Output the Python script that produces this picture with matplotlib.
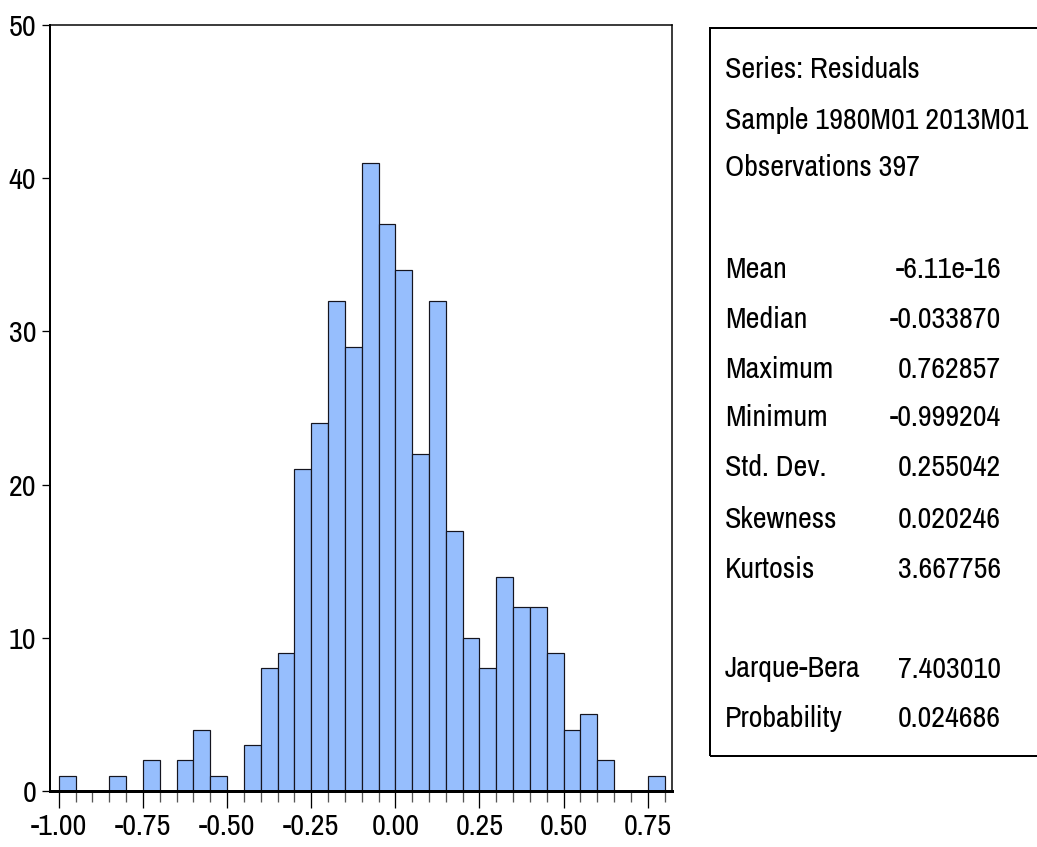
import matplotlib
matplotlib.use("Agg")
import matplotlib.pyplot as plt
from matplotlib.patches import Rectangle
from matplotlib.ticker import FixedLocator
from matplotlib.textpath import TextPath
from matplotlib.font_manager import FontProperties, fontManager

# ---- data ----
bin_left_edges = [-1.00, -0.95, -0.90, -0.85, -0.80, -0.75, -0.70, -0.65, -0.60, -0.55,
                  -0.50, -0.45, -0.40, -0.35, -0.30, -0.25, -0.20, -0.15, -0.10, -0.05,
                  0.00, 0.05, 0.10, 0.15, 0.20, 0.25, 0.30, 0.35, 0.40, 0.45,
                  0.50, 0.55, 0.60, 0.65, 0.70, 0.75]
counts = [1, 0, 0, 1, 0, 2, 0, 2, 4, 1,
          0, 3, 8, 9, 21, 24, 32, 29, 41, 37,
          34, 22, 32, 17, 10, 8, 14, 12, 12, 9,
          4, 5, 2, 0, 0, 1]
bin_width = 0.05
x_tick_labels = ["-1.00", "-0.75", "-0.50", "-0.25", "0.00", "0.25", "0.50", "0.75"]
y_ticks = [0, 10, 20, 30, 40, 50]

header_lines = ["Series: Residuals", "Sample 1980M01 2013M01", "Observations 397"]
stat_names = ["Mean", "Median", "Maximum", "Minimum", "Std. Dev.", "Skewness", "Kurtosis"]
stat_values = ["-6.11e-16", "-0.033870", "0.762857", "-0.999204", "0.255042", "0.020246", "3.667756"]
test_names = ["Jarque-Bera", "Probability"]
test_values = ["7.403010", "0.024686"]

# ---- pick a narrow Arial-like font whose width fits the reference ----
available = {f.name for f in fontManager.ttflist}
candidates = ["Liberation Sans Narrow", "Archivo Narrow", "Roboto Condensed",
              "IBM Plex Sans Condensed", "Fira Sans Condensed", "Sofia Sans Semi Condensed",
              "PT Sans Narrow", "Encode Sans Condensed"]
TARGET_PX = 302.0   # width of "Sample 1980M01 2013M01" in the reference
best = None
for name in candidates:
    if name not in available:
        continue
    try:
        fp = FontProperties(family=name, size=22)
        tp = TextPath((0, 0), header_lines[1], prop=fp)
        wpx = tp.get_extents().width * 100 / 72.0
    except Exception:
        continue
    score = abs(wpx - TARGET_PX)
    if best is None or score < best[0] - 8:
        best = (score, name, wpx)
if best is None:
    FONT_NAME, FS = "DejaVu Sans", 17
else:
    FONT_NAME = best[1]
    FS = max(19.5, min(23.0, 22 * TARGET_PX / best[2]))

plt.rcParams['font.family'] = [FONT_NAME, "DejaVu Sans"]

W, H = 1037, 847
PX = 0.72  # points per pixel at 100 dpi
fig = plt.figure(figsize=(W / 100, H / 100), dpi=100)
ax = fig.add_axes([50 / W, 1 - 791 / H, (672 - 50) / W, (791 - 25) / H])

ax.bar(bin_left_edges, counts, width=bin_width, align='edge',
       color='#96BEFD', edgecolor='#15151f', linewidth=1.2 * PX)

ax.set_xlim(-1.026, 0.822)
ax.set_ylim(0, 50)

major_x = [float(s) for s in x_tick_labels]
ax.xaxis.set_major_locator(FixedLocator(major_x))
ax.set_xticklabels(x_tick_labels)
minor_x = [round(-1.0 + 0.05 * i, 2) for i in range(37)]
ax.xaxis.set_minor_locator(FixedLocator(minor_x))
ax.set_yticks(y_ticks)

ax.tick_params(axis='x', which='major', direction='out', length=17 * PX, width=1.3 * PX,
               pad=5 * PX, labelsize=FS)
ax.tick_params(axis='x', which='minor', direction='out', length=11 * PX, width=1.3 * PX,
               color='#555555')
ax.tick_params(axis='y', which='major', direction='out', length=8 * PX, width=1.3 * PX,
               pad=6 * PX, labelsize=FS)

for side in ['top', 'right']:
    ax.spines[side].set_linewidth(1.5 * PX)
ax.spines['left'].set_linewidth(2 * PX)
ax.spines['bottom'].set_linewidth(3 * PX)

# ---- statistics box ----
box_left = 710 / W
box_top = 1 - 28 / H
box_bottom = 1 - 756 / H
rect = Rectangle((box_left, box_bottom), 0.5, box_top - box_bottom,
                 transform=fig.transFigure, fill=False, edgecolor='black',
                 linewidth=2 * PX, clip_on=False)
fig.patches.append(rect)

lx = 725 / W
rx = 1001 / W
header_y = [70, 120, 168]
for txt, yp in zip(header_lines, header_y):
    fig.text(lx, 1 - yp / H, txt, fontsize=FS, ha='left', va='center')

stat_y = [270, 320, 369, 418, 468, 519, 569]
for name, val, yp in zip(stat_names, stat_values, stat_y):
    fig.text(lx, 1 - yp / H, name, fontsize=FS, ha='left', va='center')
    fig.text(rx, 1 - yp / H, val, fontsize=FS, ha='right', va='center')

test_y = [669, 718]
for name, val, yp in zip(test_names, test_values, test_y):
    fig.text(lx, 1 - yp / H, name, fontsize=FS, ha='left', va='center')
    fig.text(rx, 1 - yp / H, val, fontsize=FS, ha='right', va='center')

fig.savefig("out.png", dpi=100)
